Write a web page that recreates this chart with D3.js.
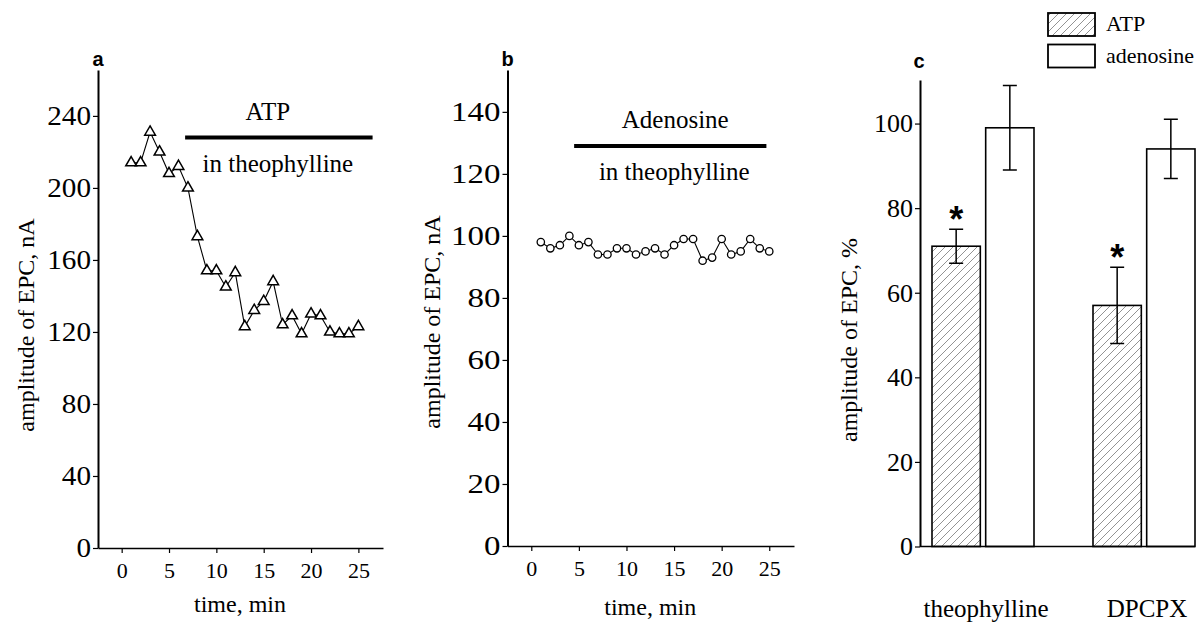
<!DOCTYPE html>
<html>
<head>
<meta charset="utf-8">
<script src="https://cdn.jsdelivr.net/npm/d3@7"></script>
<style>
  html, body { margin: 0; padding: 0; background: #fff; }
  svg { display: block; }
  svg text { font-family: "Liberation Serif", "Times New Roman", Times, serif; fill: #000; }
  svg text.sans { font-family: "Liberation Sans", Arial, Helvetica, sans-serif; font-weight: bold; }
</style>
</head>
<body>
<script>
// ---------- DATA ----------
// Panel a: ATP in theophylline (amplitude of EPC, nA)
const timeA = [1,2,3,4,5,6,7,8,9,10,11,12,13,14,15,16,17,18,19,20,21,22,23,24,25];
const ampA  = [214,214,231,220,208,212,200,173,154,154,145,153,123,132,137,148,124,129,119,130,129,120,119,119,123];
const ticksAy = [0,40,80,120,160,200,240];
const ticksX  = [0,5,10,15,20,25];
const barA = {label: "ATP", sub: "in theophylline", start: 6.7, end: 26.5, level: 228};

// Panel b: Adenosine in theophylline
const timeB = [1,2,3,4,5,6,7,8,9,10,11,12,13,14,15,16,17,18,19,20,21,22,23,24,25];
const ampB  = [98,96,97,100,97,98,94,94,96,96,94,95,96,94,97,99,99,92,93,99,94,95,99,96,95];
const ticksBy = [0,20,40,60,80,100,120,140];
const barB = {label: "Adenosine", sub: "in theophylline", start: 4.5, end: 24.7, level: 129};

// Panel c: % of control
const groups   = ["theophylline", "DPCPX"];
const series   = ["ATP", "adenosine"];
const atpMean  = [71, 57];
const atpErr   = [4, 9];
const adoMean  = [99, 94];
const adoErr   = [10, 7];
const signif   = [true, true];   // asterisk over ATP bars
const ticksCy  = [0,20,40,60,80,100];

// ---------- DRAW ----------
const W = 1199, H = 623;
const svg = d3.select("body").append("svg").attr("width", W).attr("height", H);

// hatch pattern
const defs = svg.append("defs");
const pat = defs.append("pattern").attr("id", "hatch").attr("patternUnits", "userSpaceOnUse")
  .attr("width", 8).attr("height", 8);
pat.append("rect").attr("width", 8).attr("height", 8).attr("fill", "#fff");
pat.append("path").attr("d", "M-2,2 L2,-2 M0,8 L8,0 M6,10 L10,6")
  .attr("stroke", "#777").attr("stroke-width", 0.8);

function styleAxis(g, fs, domainW, sx) {
  g.attr("font-family", null).attr("font-size", null);
  g.selectAll("text").style("font-size", fs + "px");
  if (sx && sx !== 1) {
    g.selectAll(".tick text").each(function () {
      const t = d3.select(this);
      const xx = +t.attr("x") || 0;
      t.attr("x", xx / sx).attr("transform", `scale(${sx},1)`);
    });
  }
  g.select(".domain").attr("stroke", "#000").attr("stroke-width", domainW);
  g.selectAll(".tick line").attr("stroke", "#000").attr("stroke-width", 1.2);
}

function txt(g, x, y, s, fs, anchor) {
  return g.append("text").attr("x", x).attr("y", y).attr("text-anchor", anchor || "middle")
    .style("font-size", fs + "px").text(s);
}

function timePanel(cfg) {
  const x = d3.scaleLinear().domain([-2.5, 27.6]).range([cfg.x0, cfg.x1]);
  const y = d3.scaleLinear().domain([0, cfg.yTop]).range([cfg.y0, cfg.y1]);
  const g = svg.append("g");

  const gy = g.append("g").attr("transform", `translate(${cfg.x0},0)`)
    .call(d3.axisLeft(y).tickValues(cfg.yTicks).tickSize(5).tickSizeOuter(0).tickPadding(2));
  styleAxis(gy, cfg.fs, 2, cfg.sx);
  const gx = g.append("g").attr("transform", `translate(0,${cfg.y0})`)
    .call(d3.axisBottom(x).tickValues(ticksX).tickSize(5).tickSizeOuter(0).tickPadding(9));
  styleAxis(gx, 22, 1.6, 1);

  // treatment bar
  g.append("line").attr("x1", x(cfg.bar.start)).attr("x2", x(cfg.bar.end))
    .attr("y1", y(cfg.bar.level)).attr("y2", y(cfg.bar.level))
    .attr("stroke", "#000").attr("stroke-width", 4);
  const mid = (x(cfg.bar.start) + x(cfg.bar.end)) / 2;
  txt(g, mid + cfg.lblDx, y(cfg.bar.level) - 18, cfg.bar.label, 25);
  txt(g, mid + cfg.subDx, y(cfg.bar.level) + 34, cfg.bar.sub, 25);

  // data line
  const pts = cfg.t.map((t, i) => [t, cfg.v[i]]);
  g.append("path").datum(pts)
    .attr("d", d3.line().x(d => x(d[0])).y(d => y(d[1])))
    .attr("fill", "none").attr("stroke", "#000").attr("stroke-width", 1.1);
  if (cfg.marker === "tri") {
    g.selectAll(".m").data(pts).join("path")
      .attr("transform", d => `translate(${x(d[0])},${y(d[1])})`)
      .attr("d", d3.symbol().type(d3.symbolTriangle).size(50))
      .attr("fill", "#fff").attr("stroke", "#000").attr("stroke-width", 1.5);
  } else {
    g.selectAll(".m").data(pts).join("circle")
      .attr("cx", d => x(d[0])).attr("cy", d => y(d[1])).attr("r", 3.7)
      .attr("fill", "#fff").attr("stroke", "#000").attr("stroke-width", 1.3);
  }

  // titles
  g.append("text").attr("transform", `translate(${cfg.titleX},${cfg.titleY}) rotate(-90)`)
    .attr("text-anchor", "middle").style("font-size", "24px").text("amplitude of EPC, nA");
  txt(g, (x(0) + x(25)) / 2, cfg.xTitleY, "time, min", 24);
  g.append("text").attr("class", "sans").attr("x", cfg.x0).attr("y", 66).attr("text-anchor", "middle")
    .style("font-size", "20px").text(cfg.letter);
}

timePanel({x0: 98, x1: 383, y0: 548, y1: 70, yTop: 265.5, yTicks: ticksAy, fs: 27, sx: 1.08,
  t: timeA, v: ampA, bar: barA, marker: "tri", letter: "a",
  lblDx: -11, subDx: -1, titleX: 34, titleY: 325, xTitleY: 612});
timePanel({x0: 507.5, x1: 794, y0: 546, y1: 70, yTop: 153.5, yTicks: ticksBy, fs: 27, sx: 1.22,
  t: timeB, v: ampB, bar: barB, marker: "circ", letter: "b",
  lblDx: 5, subDx: 4, titleX: 440, titleY: 322, xTitleY: 615});

// ---------- Panel c ----------
(function () {
  const x0 = 920, x1 = 1195, y0 = 546.5, y1 = 80;
  const y = d3.scaleLinear().domain([0, 110.3]).range([y0, y1]);
  const xg = d3.scalePoint().domain(groups).range([983, 1144]);
  const xs = d3.scaleBand().domain(series).range([-51, 51]).paddingInner(0.1);
  const g = svg.append("g");

  const gy = g.append("g").attr("transform", `translate(${x0},0)`)
    .call(d3.axisLeft(y).tickValues(ticksCy).tickSize(5).tickSizeOuter(0).tickPadding(2));
  styleAxis(gy, 26, 2, 1);

  const rows = [];
  groups.forEach((gname, i) => {
    rows.push({g: gname, s: "ATP", m: atpMean[i], e: atpErr[i], star: signif[i]});
    rows.push({g: gname, s: "adenosine", m: adoMean[i], e: adoErr[i], star: false});
  });

  g.selectAll(".bar").data(rows).join("rect")
    .attr("x", d => xg(d.g) + xs(d.s)).attr("width", xs.bandwidth())
    .attr("y", d => y(d.m)).attr("height", d => y(0) - y(d.m))
    .attr("fill", d => d.s === "ATP" ? "url(#hatch)" : "#fff")
    .attr("stroke", "#000").attr("stroke-width", 1.6);

  const cx = d => xg(d.g) + xs(d.s) + xs.bandwidth() / 2;
  g.selectAll(".eb").data(rows).join("path")
    .attr("d", d => {
      const c = cx(d), t = y(d.m + d.e), b = y(d.m - d.e);
      return `M${c},${t}V${b}M${c - 7},${t}H${c + 7}M${c - 7},${b}H${c + 7}`;
    })
    .attr("fill", "none").attr("stroke", "#000").attr("stroke-width", 1.5);

  g.selectAll(".star").data(rows.filter(d => d.star)).join("text")
    .attr("class", "sans")
    .attr("x", d => cx(d)).attr("y", d => y(d.m + d.e) + 3)
    .attr("text-anchor", "middle").style("font-size", "36px").text("*");

  // x axis line
  g.append("line").attr("x1", x0).attr("x2", x1).attr("y1", y0).attr("y2", y0)
    .attr("stroke", "#000").attr("stroke-width", 1.6);

  g.selectAll(".cat").data(groups).join("text")
    .attr("x", d => xg(d) + 3).attr("y", 617)
    .attr("text-anchor", "middle").style("font-size", "25px").text(d => d);

  g.append("text").attr("transform", `translate(857,340) rotate(-90)`)
    .attr("text-anchor", "middle").style("font-size", "24px").text("amplitude of EPC, %");
  g.append("text").attr("class", "sans").attr("x", 919).attr("y", 68).attr("text-anchor", "middle")
    .style("font-size", "20px").text("c");

  // legend
  const lg = g.append("g");
  series.forEach((s, i) => {
    const yy = 13 + i * 31.5;
    lg.append("rect").attr("x", 1048).attr("y", yy).attr("width", 47).attr("height", 23)
      .attr("fill", s === "ATP" ? "url(#hatch)" : "#fff").attr("stroke", "#000").attr("stroke-width", 1.8);
    txt(lg, 1106, yy + 18, s, 22, "start");
  });
})();
</script>
</body>
</html>
